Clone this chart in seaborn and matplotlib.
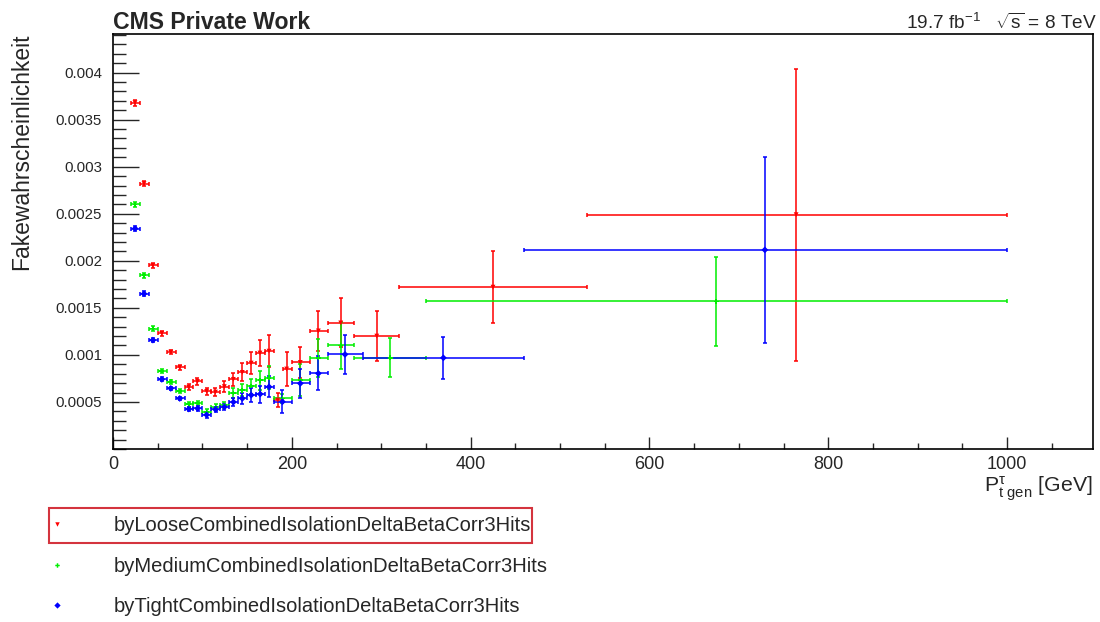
import numpy as np
import pandas as pd
import matplotlib
matplotlib.use("Agg")
import matplotlib.pyplot as plt
import seaborn as sns
from matplotlib.lines import Line2D
from matplotlib.patches import Rectangle
from matplotlib.ticker import MultipleLocator, FuncFormatter

# ---------------- data ----------------
loose_label = "byLooseCombinedIsolationDeltaBetaCorr3Hits"
medium_label = "byMediumCombinedIsolationDeltaBetaCorr3Hits"
tight_label = "byTightCombinedIsolationDeltaBetaCorr3Hits"

loose_x = [24.6, 34.7, 44.5, 54.5, 64.5, 74.5, 84.6, 94.5, 104.7, 114.6, 124.5, 134.6,
           144.6, 154.5, 164.4, 174.5, 184.2, 194.2, 209.5, 229.7, 254.7, 295.0, 425.0, 764.0]
loose_lo = [20, 30, 40, 50, 60, 70, 80, 90, 100, 110, 120, 130, 140, 150, 160, 170, 180, 190,
            200, 220, 240, 270, 320, 530]
loose_hi = [30, 40, 50, 60, 70, 80, 90, 100, 110, 120, 130, 140, 150, 160, 170, 180, 190, 200,
            220, 240, 270, 320, 530, 1000]
loose_y = [0.00368, 0.00282, 0.00195, 0.00123, 0.00103, 0.000867, 0.000656, 0.000718, 0.000612,
           0.000605, 0.000663, 0.00074, 0.000814, 0.000913, 0.00102, 0.00104, 0.00052, 0.00085,
           0.00092, 0.001255, 0.00134, 0.0012, 0.00172, 0.00249]
loose_err = [3e-5, 3e-5, 3e-5, 2.5e-5, 2.5e-5, 2.5e-5, 3e-5, 3.5e-5, 4e-5, 4.5e-5, 5.5e-5, 7e-5,
             9.5e-5, 1.15e-4, 1.4e-4, 1.7e-4, 7.5e-5, 1.8e-4, 1.65e-4, 2.15e-4, 2.6e-4, 2.65e-4,
             3.85e-4, 1.55e-3]

medium_x = [24.7, 34.7, 44.6, 54.6, 64.6, 74.6, 84.7, 94.6, 104.7, 114.7, 124.6, 134.7, 144.6,
            154.6, 164.6, 174.5, 189.5, 209.5, 229.7, 254.7, 310.0, 674.5]
medium_lo = [20, 30, 40, 50, 60, 70, 80, 90, 100, 110, 120, 130, 140, 150, 160, 170, 180, 200,
             220, 240, 270, 350]
medium_hi = [30, 40, 50, 60, 70, 80, 90, 100, 110, 120, 130, 140, 150, 160, 170, 180, 200, 220,
             240, 270, 350, 1000]
medium_y = [0.0026, 0.001847, 0.00128, 0.000828, 0.000715, 0.000617, 0.000476, 0.000488, 0.000393,
            0.000443, 0.000467, 0.000595, 0.000625, 0.000669, 0.000732, 0.000757, 0.000538,
            0.000733, 0.00097, 0.0011, 0.00097, 0.001568]
medium_err = [2.5e-5, 2.5e-5, 2.5e-5, 2e-5, 2e-5, 2e-5, 2.5e-5, 2.5e-5, 3e-5, 3e-5, 3.5e-5, 5e-5,
              6.5e-5, 8e-5, 1e-4, 1.2e-4, 5e-5, 1.7e-4, 2e-4, 2.45e-4, 2.1e-4, 4.7e-4]

tight_x = [24.7, 34.7, 44.6, 54.6, 64.6, 74.6, 84.7, 94.6, 104.7, 114.7, 124.6, 134.7, 144.6,
           154.6, 164.6, 174.5, 189.5, 209.5, 229.7, 259.5, 369.5, 729.0]
tight_lo = [20, 30, 40, 50, 60, 70, 80, 90, 100, 110, 120, 130, 140, 150, 160, 170, 180, 200,
            220, 240, 280, 460]
tight_hi = [30, 40, 50, 60, 70, 80, 90, 100, 110, 120, 130, 140, 150, 160, 170, 180, 200, 220,
            240, 280, 460, 1000]
tight_y = [0.002343, 0.00165, 0.001157, 0.00074, 0.000644, 0.000537, 0.000425, 0.000431, 0.000363,
           0.00042, 0.000447, 0.000499, 0.000537, 0.000573, 0.000584, 0.000661, 0.000502,
           0.000697, 0.000803, 0.001005, 0.000969, 0.002116]
tight_err = [2.5e-5, 2.5e-5, 2.5e-5, 2e-5, 2e-5, 2e-5, 2.5e-5, 2.5e-5, 3e-5, 3e-5, 3.5e-5, 4.5e-5,
             6e-5, 7e-5, 9e-5, 1.1e-4, 1.2e-4, 1.5e-4, 1.8e-4, 2.1e-4, 2.2e-4, 9.9e-4]

x_ticks = [0, 200, 400, 600, 800, 1000]
y_ticks = [0.0005, 0.001, 0.0015, 0.002, 0.0025, 0.003, 0.0035, 0.004]

# ---------------- style ----------------
sns.set_style("ticks")
plt.rcParams["font.family"] = ["Liberation Sans", "DejaVu Sans"]
plt.rcParams["mathtext.fontset"] = "custom"
plt.rcParams["mathtext.rm"] = "Liberation Sans"
plt.rcParams["mathtext.it"] = "Liberation Sans:italic"
plt.rcParams["mathtext.bf"] = "Liberation Sans:bold"

series = [
    (loose_label, loose_x, loose_lo, loose_hi, loose_y, loose_err, "#ff0000", "v"),
    (medium_label, medium_x, medium_lo, medium_hi, medium_y, medium_err, "#00ee00", "P"),
    (tight_label, tight_x, tight_lo, tight_hi, tight_y, tight_err, "#0000ff", "D"),
]

frames = []
for name, xs, lo, hi, ys, er, c, m in series:
    frames.append(pd.DataFrame({"x": xs, "lo": lo, "hi": hi, "y": ys, "err": er, "series": name}))
df = pd.concat(frames, ignore_index=True)

palette = {s[0]: s[6] for s in series}
markers = {s[0]: s[7] for s in series}

fig = plt.figure(figsize=(11, 6.22), dpi=100)
ax = fig.add_axes([113 / 1100, 1 - 449 / 622, (1093 - 113) / 1100, (449 - 34) / 622])

for name, xs, lo, hi, ys, er, c, m in series:
    sub = df[df["series"] == name]
    ax.errorbar(sub["x"], sub["y"],
                xerr=[sub["x"] - sub["lo"], sub["hi"] - sub["x"]],
                yerr=sub["err"], fmt="none", ecolor=c, elinewidth=1.1,
                capsize=1.3, capthick=1.1, zorder=2)

sns.scatterplot(data=df, x="x", y="y", hue="series", style="series",
                palette=palette, markers=markers, s=12, linewidth=0,
                legend=False, ax=ax, zorder=3)

ax.set_xlim(0, 1096)
ax.set_ylim(0, 0.00441)
ax.set_xticks(x_ticks)
ax.set_yticks(y_ticks)
ax.xaxis.set_minor_locator(MultipleLocator(50))
ax.yaxis.set_minor_locator(MultipleLocator(0.0001))
ax.yaxis.set_major_formatter(FuncFormatter(lambda v, p: "%g" % v))
ax.tick_params(axis="y", which="major", direction="in", length=19, width=1, labelsize=10.8, pad=8)
ax.tick_params(axis="y", which="minor", direction="in", length=9.5, width=1)
ax.tick_params(axis="x", which="major", direction="in", length=8.5, width=1, labelsize=13, pad=5)
ax.tick_params(axis="x", which="minor", direction="in", length=4.3, width=1)
ax.tick_params(top=False, right=False, which="both")
for sp in ax.spines.values():
    sp.set_visible(True)
    sp.set_linewidth(1.2)
    sp.set_color("black")

ax.set_xlabel(r"$\mathregular{P^{\tau}_{t\ gen}}$ [GeV]", fontsize=15.3, loc="right")
ax.xaxis.set_label_coords(1.0, -0.062)
ax.set_ylabel("Fakewahrscheinlichkeit", fontsize=16.5, loc="top")
ax.yaxis.set_label_coords(-0.081, 1.0)

fig.text(113 / 1100, 1 - 29 / 622, "CMS Private Work", fontsize=16.6, fontweight="bold",
         ha="left", va="baseline")
fig.text(1097 / 1100, 1 - 29 / 622, r"19.7 fb$^{\mathregular{-1}}$   $\mathregular{\sqrt{s}}$ = 8 TeV",
         fontsize=13.7, ha="right", va="baseline")

handles = [Line2D([], [], linestyle="none", marker=s[7], color=s[6], markersize=3.2,
                  markeredgewidth=0) for s in series]
labels = [s[0] for s in series]
fig.legend(handles, labels, loc="upper left", bbox_to_anchor=(47 / 1100, 1 - 516 / 622),
           frameon=False, fontsize=14.5, handlelength=1.0, handletextpad=2.3,
           labelspacing=1.08, borderpad=0, borderaxespad=0)

fig.patches.append(Rectangle((49 / 1100, 1 - 543 / 622), (532 - 49) / 1100, 35 / 622,
                             transform=fig.transFigure, fill=False, edgecolor="#d4343e",
                             linewidth=1.5))

fig.savefig("out.png", dpi=100)
